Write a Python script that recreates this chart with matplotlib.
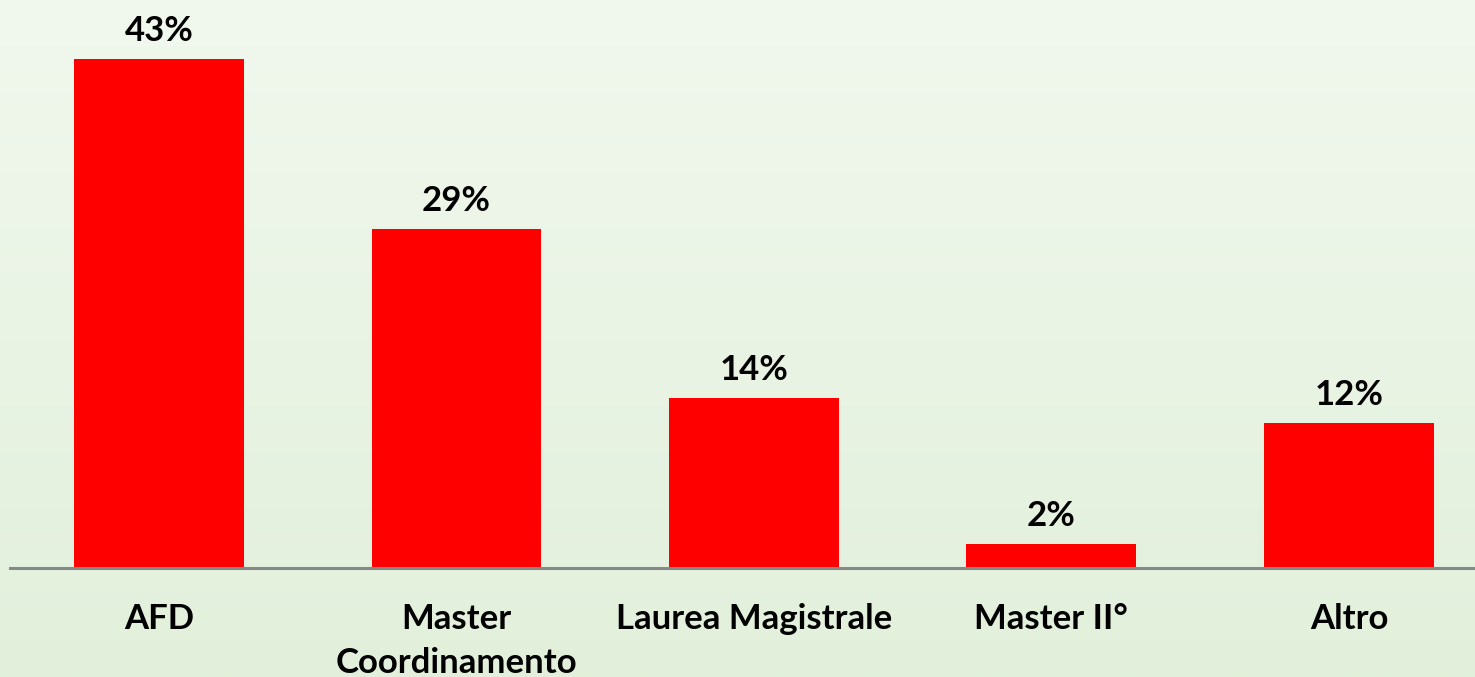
import matplotlib
matplotlib.use('Agg')
import matplotlib.pyplot as plt
import numpy as np

plt.rcParams['font.family'] = ['Lato', 'DejaVu Sans']

# valori (quota su 49 risposte)
categorie = ['AFD', 'Master\nCoordinamento', 'Laurea Magistrale', 'Master II°', 'Altro']
valori = [42.9, 28.6, 14.3, 2.0, 12.2]
etichette = ['43%', '29%', '14%', '2%', '12%']

ROSSO = '#FF0000'
GRIGIO = '#898989'

fig = plt.figure(figsize=(14.75, 6.77), dpi=100)

# sfondo sfumato verde chiaro
bg = fig.add_axes([0, 0, 1, 1], zorder=0)
grad = np.linspace(0, 1, 256).reshape(-1, 1)
top = np.array([241, 248, 238]) / 255
bot = np.array([226, 240, 219]) / 255
img = top[None, None, :] * (1 - grad[:, :, None]) + bot[None, None, :] * grad[:, :, None]
bg.imshow(img, aspect='auto', extent=[0, 1, 0, 1])
bg.axis('off')

ax = fig.add_axes([0.0068, 0.161, 0.9932, 0.839], zorder=1)
ax.patch.set_alpha(0)

x = np.arange(len(categorie))
bars = ax.bar(x, valori, width=0.571, color=ROSSO, zorder=2)

for b, lab in zip(bars, etichette):
    ax.annotate(lab, (b.get_x() + b.get_width() / 2, b.get_height()),
                xytext=(0, 13), textcoords='offset points',
                ha='center', va='baseline', fontsize=25, fontweight='bold',
                color='black')

ax.set_xlim(-0.501, 4.424)
ax.set_ylim(0, 47.9)

for s in ['top', 'right', 'left']:
    ax.spines[s].set_visible(False)
ax.spines['bottom'].set_color(GRIGIO)
ax.spines['bottom'].set_linewidth(2.2)

ax.set_yticks([])
ax.set_xticks(x)
ax.set_xticklabels(categorie, fontsize=25, fontweight='bold', linespacing=1.47,
                   va='top')
ax.tick_params(axis='x', length=0, pad=25)

plt.savefig('out.png', dpi=100)
